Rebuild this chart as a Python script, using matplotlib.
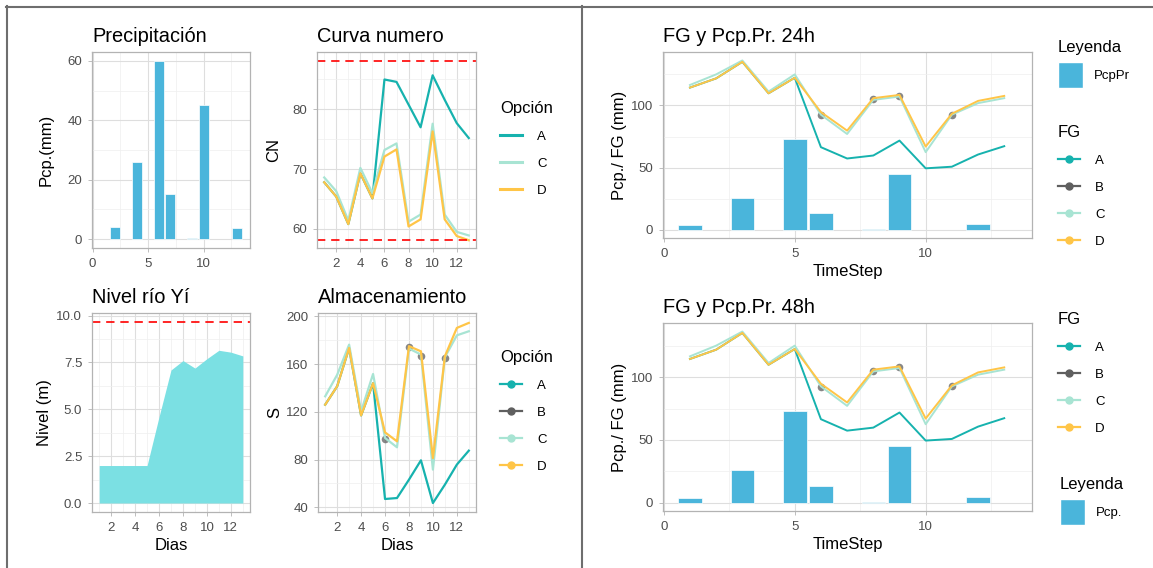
import matplotlib
matplotlib.use('Agg')
import matplotlib.pyplot as plt
from matplotlib.lines import Line2D
from matplotlib.patches import Patch
from matplotlib.ticker import MultipleLocator

plt.rcParams['font.family'] = ['Liberation Sans', 'DejaVu Sans']

# datos
dias = list(range(1, 14))

pcp_x = [2, 4, 6, 7, 9, 10, 13]
pcp = [4.0, 26.0, 60.0, 15.3, 0.3, 45.2, 3.8]

cn_A = [67.8, 65.4, 60.8, 69.3, 65.1, 85.0, 84.6, 80.8, 77.0, 85.7, 81.6, 77.7, 75.2]
cn_C = [68.6, 66.3, 61.4, 70.2, 66.0, 73.2, 74.3, 61.2, 62.4, 77.6, 62.4, 59.5, 58.9]
cn_D = [67.8, 65.4, 60.8, 69.3, 65.1, 72.1, 73.3, 60.4, 61.6, 76.3, 61.6, 58.8, 58.1]
cn_max = 88.1
cn_min = 58.2

nivel = [2.0, 2.0, 2.0, 2.0, 2.0, 4.6, 7.1, 7.6, 7.2, 7.7, 8.15, 8.05, 7.85]
nivel_max = 9.66

s_A = [126.0, 141.4, 173.5, 117.0, 144.0, 47.0, 47.8, 63.2, 79.4, 43.6, 59.0, 75.8, 87.5]
s_C = [133.0, 151.0, 176.3, 120.4, 151.7, 98.1, 90.3, 173.0, 168.0, 71.6, 165.7, 184.1, 187.5]
s_D = [126.0, 141.4, 173.5, 117.0, 144.0, 102.8, 95.3, 175.0, 170.7, 81.3, 166.5, 190.3, 194.5]
s_B_x = [6, 8, 9, 11]
s_B = [97.5, 174.0, 167.0, 165.0]

pr_x = [1, 3, 5, 6, 8, 9, 12]
pr = [3.7, 25.8, 73.1, 13.6, 0.5, 45.2, 4.5]

fg_A = [114.4, 121.8, 135.1, 109.8, 122.3, 66.5, 57.4, 59.8, 71.8, 49.5, 50.8, 60.6, 67.3]
fg_C = [116.5, 125.0, 136.2, 111.2, 125.0, 92.6, 77.1, 104.5, 107.2, 62.5, 92.6, 101.9, 105.9]
fg_D = [114.4, 121.8, 135.1, 109.8, 122.3, 94.7, 79.8, 105.9, 108.5, 67.0, 93.4, 103.7, 107.7]
fg_B_x = [6, 8, 9, 11]
fg_B = [92.0, 105.0, 107.7, 92.6]

col_A = '#16B2AE'
col_B = '#5F5F5F'
col_C = '#A8E4D3'
col_D = '#FFC547'
col_bar = '#4AB5DB'
col_area = '#7BE0E3'

W, H = 1153, 568
fig = plt.figure(figsize=(W / 100, H / 100), dpi=100)


def px_axes(l, t, r, b):
    return fig.add_axes([l / W, 1 - b / H, (r - l) / W, (b - t) / H])


def estilo(ax, xmaj, ymaj):
    for s in ax.spines.values():
        s.set_color('#B3B3B3')
        s.set_linewidth(0.9)
    ax.xaxis.set_major_locator(MultipleLocator(xmaj))
    ax.xaxis.set_minor_locator(MultipleLocator(xmaj / 2))
    ax.yaxis.set_major_locator(MultipleLocator(ymaj))
    ax.yaxis.set_minor_locator(MultipleLocator(ymaj / 2))
    ax.grid(which='major', color='#DEDEDE', lw=0.8)
    ax.grid(which='minor', color='#EFEFEF', lw=0.5)
    ax.set_axisbelow(True)
    ax.tick_params(which='major', length=3, width=0.6, color='#B3B3B3',
                   labelsize=9.5, labelcolor='#4D4D4D', pad=4)
    ax.tick_params(which='minor', length=0)


def titulo(ax, txt):
    ax.set_title(txt, loc='left', fontsize=14.4, pad=7)


def leyenda(ax, handles, labels, title, x, y, **kw):
    opts = dict(loc='upper left', bbox_to_anchor=(x / W, 1 - y / H),
                bbox_transform=fig.transFigure, frameon=False, fontsize=9.5,
                title_fontsize=12, alignment='left', handlelength=1.7,
                handletextpad=1.1, labelspacing=1.12, borderpad=0, borderaxespad=0)
    opts.update(kw)
    return ax.legend(handles, labels, title=title, **opts)


def h_line(c, marker=True):
    if marker:
        return Line2D([], [], color=c, lw=1.6, marker='o', markersize=5)
    return Line2D([], [], color=c, lw=2.2)


# Precipitación
ax1 = px_axes(92, 52, 250, 248)
ax1.bar(pcp_x, pcp, width=0.9, color=col_bar, edgecolor='white', linewidth=0.5)
ax1.set_xlim(-0.05, 14.18)
ax1.set_ylim(-3, 63)
estilo(ax1, 5, 20)
titulo(ax1, 'Precipitación')
ax1.set_ylabel('Pcp.(mm)', fontsize=12, labelpad=10)

# Curva numero
ax2 = px_axes(317, 52, 476, 248)
ax2.plot(dias, cn_A, color=col_A, lw=1.6)
ax2.plot(dias, cn_C, color=col_C, lw=1.6)
ax2.plot(dias, cn_D, color=col_D, lw=1.6)
ax2.axhline(cn_max, color='#FF0000', lw=1.2, ls=(0, (5, 3.5)))
ax2.axhline(cn_min, color='#FF0000', lw=1.2, ls=(0, (5, 3.5)))
ax2.set_xlim(0.4, 13.6)
ax2.set_ylim(56.8, 89.6)
estilo(ax2, 2, 10)
titulo(ax2, 'Curva numero')
ax2.set_ylabel('CN', fontsize=12, labelpad=8)
leyenda(ax2, [h_line(col_A, False), h_line(col_C, False), h_line(col_D, False)],
        ['A', 'C', 'D'], 'Opción', 500, 101)

# Nivel río Yí
ax3 = px_axes(92, 313, 250, 512)
ax3.fill_between(dias, nivel, 0, color=col_area, lw=0)
ax3.axhline(nivel_max, color='#FF0000', lw=1.2, ls=(0, (5, 3.5)))
ax3.set_xlim(0.4, 13.6)
ax3.set_ylim(-0.48, 10.14)
estilo(ax3, 2, 2.5)
ax3.yaxis.set_major_formatter(matplotlib.ticker.FormatStrFormatter('%.1f'))
titulo(ax3, 'Nivel río Yí')
ax3.set_ylabel('Nivel (m)', fontsize=12, labelpad=3)
ax3.set_xlabel('Dias', fontsize=12, labelpad=3)

# Almacenamiento
ax4 = px_axes(318, 313, 476, 512)
ax4.plot(dias, s_A, color=col_A, lw=1.6)
ax4.scatter(s_B_x, s_B, color=col_B, s=30, alpha=0.75, zorder=3, lw=0)
ax4.plot(dias, s_C, color=col_C, lw=1.6, zorder=4)
ax4.plot(dias, s_D, color=col_D, lw=1.6, zorder=4)
ax4.set_xlim(0.4, 13.6)
ax4.set_ylim(36.1, 202.8)
estilo(ax4, 2, 40)
titulo(ax4, 'Almacenamiento')
ax4.set_ylabel('S', fontsize=12, labelpad=3)
ax4.set_xlabel('Dias', fontsize=12, labelpad=3)
leyenda(ax4, [h_line(col_A), h_line(col_B), h_line(col_C), h_line(col_D)],
        ['A', 'B', 'C', 'D'], 'Opción', 500, 350)

# FG 24h y 48h
for top, bot, ttl, bar_lab in [(52, 238, 'FG y Pcp.Pr. 24h', 'PcpPr'),
                                (323, 511, 'FG y Pcp.Pr. 48h', 'Pcp.')]:
    ax = px_axes(663, top, 1032, bot)
    ax.bar(pr_x, pr, width=0.9, color=col_bar, edgecolor='white', linewidth=0.5)
    ax.plot(dias, fg_A, color=col_A, lw=1.4)
    ax.scatter(fg_B_x, fg_B, color=col_B, s=30, alpha=0.75, zorder=3, lw=0)
    ax.plot(dias, fg_C, color=col_C, lw=1.4, zorder=4)
    ax.plot(dias, fg_D, color=col_D, lw=1.4, zorder=4)
    ax.set_xlim(-0.03, 14.06)
    ax.set_ylim(-6.5, 143)
    estilo(ax, 5, 50)
    titulo(ax, ttl)
    ax.set_ylabel('Pcp./ FG (mm)', fontsize=12, labelpad=3)
    ax.set_xlabel('TimeStep', fontsize=12, labelpad=3)
    fg_h = [h_line(col_A), h_line(col_B), h_line(col_C), h_line(col_D)]
    bar_h = [Patch(facecolor=col_bar, edgecolor='white')]
    if bar_lab == 'PcpPr':
        l1 = leyenda(ax, bar_h, [bar_lab], 'Leyenda', 1058, 40,
                     handlelength=1.9, handleheight=2.6, handletextpad=0.8,
                     labelspacing=0.55)
        ax.add_artist(l1)
        leyenda(ax, fg_h, ['A', 'B', 'C', 'D'], 'FG', 1058, 125)
    else:
        l1 = leyenda(ax, fg_h, ['A', 'B', 'C', 'D'], 'FG', 1058, 312)
        ax.add_artist(l1)
        leyenda(ax, bar_h, [bar_lab], 'Leyenda', 1060, 477,
                handlelength=1.9, handleheight=2.6, handletextpad=0.8,
                labelspacing=0.55)

# marco
for xs, ys in [([6.5, 6.5], [6, H]), ([6, W], [6.5, 6.5]), ([581.5, 581.5], [6, H])]:
    fig.add_artist(Line2D([x / W for x in xs], [1 - y / H for y in ys],
                          color='#6E6E6E', lw=1.5, transform=fig.transFigure))

fig.savefig('out.png', dpi=100)
